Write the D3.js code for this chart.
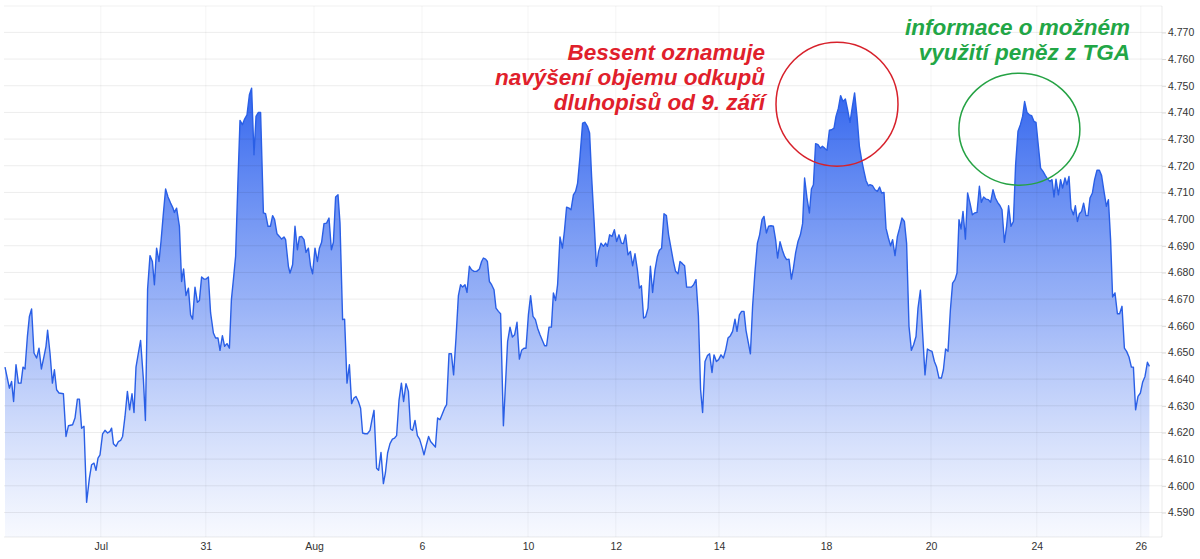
<!DOCTYPE html>
<html>
<head>
<meta charset="utf-8">
<script src="https://cdn.jsdelivr.net/npm/d3@7"></script>
<style>
  body { margin: 0; background: #fff; }
  svg { display: block; font-family: "Liberation Sans", Arial, sans-serif; }
</style>
</head>
<body>
<svg id="chart" width="1200" height="559"></svg>
<script>
// [slot, yield] (slot = trading period index)
const points = [
  [0,4.6445],[2.2,4.6366],[3.3,4.6391],[4.3,4.6316],[5.5,4.6454],[6.7,4.6385],[8,4.6385],[9,4.6445],[10,4.6438],[11.2,4.656],
  [12.2,4.6635],[13.3,4.6663],[14.5,4.6498],[15.8,4.6479],[17,4.6516],[18.2,4.6438],[19.5,4.6485],[20.5,4.6523],[21.3,4.6583],[22.5,4.6498],
  [23.7,4.6385],[24.7,4.6435],[25.8,4.636],[27,4.6348],[29.2,4.6345],[30.5,4.6185],[31.7,4.6225],[33.8,4.6229],[35,4.6254],[36.2,4.6325],
  [37.2,4.6325],[38.3,4.6216],[39.5,4.6223],[40.8,4.5938],[42.2,4.6029],[43.3,4.6079],[44.5,4.6085],[45.5,4.6058],[46.5,4.6104],[47.5,4.6116],
  [48.8,4.6195],[50,4.6208],[51.3,4.6198],[52.5,4.6204],[53.3,4.6216],[54.2,4.6158],[55.5,4.6148],[56.7,4.6166],[57.8,4.617],[58.8,4.6185],
  [60,4.626],[61.2,4.6354],[62.3,4.6285],[63.5,4.6345],[64.5,4.6275],[65.5,4.6445],[66.7,4.6498],[67.8,4.6545],[69.2,4.6398],[70.2,4.6245],
  [71.3,4.6738],[72.5,4.6863],[73.7,4.6841],[74.7,4.6754],[75.8,4.6891],[77,4.6841],[78,4.6916],[79.2,4.7023],[80.3,4.7113],[81.5,4.7083],
  [82.8,4.706],[84,4.7041],[84.7,4.7025],[85.8,4.7041],[87.2,4.6973],[88.3,4.6766],[89.3,4.6813],[90.5,4.6713],[91.7,4.6741],[92.8,4.6641],
  [93.8,4.6625],[95,4.6745],[96.2,4.6688],[97.2,4.6695],[98.3,4.6783],[99.5,4.6775],[100.5,4.6775],[101.7,4.6783],[102.8,4.6648],[104.2,4.6573],
  [105.3,4.6554],[106.5,4.6554],[107.5,4.6508],[108.7,4.6563],[109.8,4.6523],[111,4.6533],[112.2,4.6516],[113.2,4.6698],[114.2,4.6773],[115.3,4.686],
  [116.5,4.7148],[117.5,4.737],[118.7,4.7354],[119.8,4.7375],[121,4.7391],[122.2,4.7466],[123.3,4.7491],[124.5,4.7241],[125.5,4.7385],[126.7,4.74],
  [127.8,4.74],[129.2,4.7023],[130.3,4.702],[131.5,4.6973],[132.7,4.6973],[133.8,4.7013],[134.8,4.6998],[136,4.6945],[137.2,4.6935],[138.3,4.6925],
  [139.5,4.6933],[140.3,4.6923],[141.7,4.6823],
  [142.5,4.6798],[143.8,4.6829],[145,4.6973],[146.2,4.6885],[147.2,4.6933],[148.3,4.6935],[149.5,4.6923],[150.5,4.6875],[151.7,4.6891],[152.8,4.6823],
  [153.8,4.6795],[155,4.6891],[156.2,4.6841],[157.2,4.6891],[158.3,4.6913],[159.5,4.6983],[160.8,4.6985],[162,4.7004],[163.2,4.6885],[164.2,4.6913],
  [165.3,4.7083],[166.5,4.7091],[167.5,4.6985],[168.8,4.6623],[169.8,4.6625],[171,4.6385],[172.2,4.6454],[173.3,4.6308],[174.5,4.6329],[175.5,4.6335],
  [176.7,4.6316],[177.8,4.6291],[178.8,4.6198],[180,4.6195],[181.2,4.6195],[182.5,4.6208],[183.5,4.6248],[184.5,4.6283],[185.8,4.6066],[186.8,4.6058],
  [188,4.6125],[189.2,4.6008],[190.2,4.6048],[191.3,4.6123],[192.5,4.6158],[193.7,4.6175],[194.8,4.6179],[195.8,4.6188],[197,4.632],[198.2,4.6385],
  [199.3,4.6316],[200.5,4.6383],[201.7,4.6354],[202.8,4.6213],[203.8,4.6208],[205,4.6245],[206.2,4.6188],[207.3,4.6175],[208.5,4.6145],[209.5,4.6116],
  [210.7,4.6154],[211.8,4.6185],[212.8,4.6166],[214.2,4.6154],[215.2,4.6145],[216.3,4.6254],[217.5,4.6248],[218.7,4.627],[219.8,4.6291],[220.8,4.6304],
  [222,4.6495],[223.2,4.6495],[224.3,4.6416],[225.5,4.6554],[226.7,4.6713],[227.8,4.6754],[228.8,4.6745],[230,4.6754],[231,4.6725],[232.2,4.6823],
  [233.3,4.681],[234.5,4.6804],[235.8,4.6804],[237.2,4.6813],[238.3,4.6841],[239.2,4.6854],[240.3,4.685],[241.2,4.6841],[242.2,4.6766],[243.3,4.6754],
  [244.5,4.6735],[245.5,4.6666],[246.7,4.6654],[247.8,4.6645],[249.2,4.6225],[250.2,4.6373],[251.3,4.6541],[252.5,4.6595],[253.7,4.6558],[254.8,4.6566],
  [256,4.6613],[257.2,4.6475],[258.3,4.6508],[259.5,4.6516],[260.5,4.6516],[261.7,4.6641],[262.8,4.6713],[264,4.6635],[265.2,4.6623],[266.3,4.6591],
  [267.5,4.6566],[268.7,4.6545],[269.8,4.6525],[270.8,4.6525],[272,4.6595],[273.2,4.6595],[274.2,4.6723],[275.3,4.6695],[276.3,4.6754],[277.5,4.6933],
  [278.7,4.6891],[279.7,4.6954],[280.8,4.7045],[282,4.7041],[283,4.7035],[284.2,4.7091],[285.3,4.7104],[286.3,4.7135],
  [287.5,4.7234],[288.8,4.736],[290,4.7363],[291.2,4.7348],[292.3,4.7323],[293.3,4.716],[294.5,4.6998],[295.7,4.6823],[296.8,4.6879],[298,4.691],
  [299.2,4.6898],[300.3,4.691],[301.2,4.6898],[302.3,4.6941],[303.5,4.6935],[304.7,4.696],[305.8,4.6916],[307,4.6941],[308.2,4.691],[309.2,4.6908],
  [310.3,4.6941],[311.5,4.6866],[312.7,4.6879],[313.8,4.6825],[315,4.687],[316.2,4.681],[317.2,4.6741],[318.2,4.675],[319.3,4.6629],[320.3,4.6633],
  [321.5,4.6666],[322.7,4.6823],[323.8,4.6725],[325,4.681],[326.2,4.686],[327.2,4.6883],[328.3,4.6891],[329.5,4.702],[330.7,4.7013],[331.8,4.6941],
  [333,4.6891],[334.2,4.6841],[335.3,4.6804],[336.5,4.6795],[337.5,4.6841],[338.7,4.6833],[339.8,4.6825],[340.8,4.6745],[342,4.6745],[343.2,4.6745],
  [344.3,4.6754],[345.5,4.6773],[346.7,4.6638],[347.8,4.636],[348.8,4.6275],[350,4.6466],[351.2,4.6488],[352.3,4.6495],[353.5,4.6425],[354.5,4.6491],
  [355.7,4.6466],[356.8,4.6473],[358,4.6491],[359.2,4.6479],[360.3,4.6508],[361.5,4.6554],[362.7,4.6563],[363.8,4.6579],[365,4.6625],[366,4.6579],
  [367.2,4.6641],[368.3,4.6654],[369.5,4.6654],[370.5,4.6583],[371.7,4.6535],[372.7,4.6495],[373.8,4.6673],[375,4.6804],[376.2,4.691],[377.3,4.6941],
  [378.5,4.6998],[379.5,4.701],[380.7,4.6948],[381.8,4.6973],[383,4.6975],[384.2,4.6973],[385.3,4.6923],[386.3,4.6854],[387.5,4.6915],[388.7,4.6883],
  [389.8,4.686],[390.8,4.6848],[392,4.685],[393.2,4.6775],[394.2,4.6816],[395.3,4.6873],[396.5,4.6916],[397.7,4.6941],[398.8,4.6983],[399.8,4.7154],
  [401,4.7079],[402.2,4.7023],[403.2,4.7113],[404.2,4.7129],[405.3,4.7283],[406.5,4.7279],[407.7,4.7266],[408.7,4.7273],[409.8,4.7266],[411,4.7258],
  [412.2,4.7333],[413.3,4.7335],[414.5,4.7341],[415.5,4.7385],[416.7,4.7416],[417.8,4.7463],[419,4.7441],[420.2,4.745],[421.3,4.741],[422.5,4.7363],
  [423.7,4.7423],[424.8,4.7473],[426,4.7385],[427.2,4.7273],[428.3,4.7223],[429.5,4.7179],[430.5,4.7145],[431.7,4.7125],
  [432.5,4.7129],[433.8,4.7125],[435,4.711],[436.2,4.7104],[437.3,4.712],[438.3,4.7098],[439.5,4.71],[440.5,4.6966],[441.7,4.6929],[442.8,4.69],
  [443.8,4.6923],[445,4.6863],[446.2,4.6935],[447.3,4.6966],[448.5,4.7004],[449.7,4.6991],[450.8,4.691],[452,4.6598],[453.2,4.6508],[454.3,4.6529],
  [455.5,4.656],[456.5,4.6666],[457.7,4.6733],[458.8,4.6573],[460,4.6416],[461.2,4.6513],[462.3,4.6508],[463.5,4.6504],[464.7,4.6466],[465.8,4.6445],
  [467,4.6404],[468.2,4.6404],[469.2,4.6435],[470.3,4.6513],[471.5,4.6504],[472.7,4.666],[473.8,4.676],[475,4.6773],[476,4.6798],[477,4.6998],
  [478,4.6963],[479,4.7029],[480.2,4.6925],[481.3,4.7098],[482.5,4.706],[483.7,4.7016],[484.8,4.7023],[486,4.7025],[487.2,4.7123],[488.2,4.7063],
  [489.3,4.7083],[490.5,4.7075],[491.7,4.7073],[492.8,4.7063],[494,4.711],[495.2,4.7079],[496.3,4.7063],[497.5,4.705],[498.5,4.7035],[499.7,4.6913],
  [500.8,4.6973],[501.8,4.705],[503,4.6973],[504.2,4.6991],[505.3,4.7204],[506.5,4.7329],[507.7,4.7354],[508.8,4.7385],[509.8,4.7441],[511,4.74],
  [512.2,4.7391],[513.3,4.7388],[514.5,4.7366],[515.5,4.7363],[516.7,4.7273],[517.8,4.7191],[519,4.7179],[520.2,4.7163],[521.3,4.715],[522.5,4.7141],
  [523.5,4.7148],[524.5,4.7083],[525.5,4.715],[526.7,4.7091],[527.8,4.7148],[528.8,4.7116],[530,4.7154],[531,4.7129],[532,4.716],[533,4.7041],
  [534.2,4.7016],[535.2,4.705],[536.2,4.6991],[537.2,4.702],[538.3,4.7029],[539.3,4.706],[540.5,4.7013],[541.5,4.7013],[542.5,4.7079],[543.7,4.7098],
  [544.8,4.7148],[546,4.7183],[547.2,4.7183],[548.3,4.7163],[549.5,4.7104],[550.7,4.7048],[551.7,4.7073],[552.8,4.6923],[553.8,4.6708],[555,4.6723],
  [556.2,4.6645],[557.3,4.6645],[558.5,4.6673],[559.7,4.6516],[560.8,4.6504],[562,4.6483],[563.2,4.6445],[564.2,4.6445],[565.3,4.6285],[566.5,4.6335],
  [567.7,4.6348],[568.8,4.6388],[570,4.641],[571.2,4.6463],[572.2,4.6448]
];

const xTickSlots = [47.9, 100.4, 154.5, 208.5, 261.5, 305.4, 357, 410.5, 463, 515.9, 567.9];
const xTickLabels = ["Jul", "31", "Aug", "6", "10", "12", "14", "18", "20", "24", "26"];
const yTickValues = [4.59, 4.60, 4.61, 4.62, 4.63, 4.64, 4.65, 4.66, 4.67, 4.68,
                     4.69, 4.70, 4.71, 4.72, 4.73, 4.74, 4.75, 4.76, 4.77];

const redNote = ["Bessent oznamuje", "navýšení objemu odkupů", "dluhopisů od 9. září"];
const greenNote = ["informace o možném", "využití peněz z TGA"];

const svg = d3.select("#chart");
const plot = { left: 4, right: 1162, top: 6, bottom: 537 };

const x = d3.scaleLinear().domain([0, 578.5]).range([5, plot.right]);
const y = d3.scaleLinear().domain([4.5808, 4.7799]).range([plot.bottom, plot.top]);

// gradient under the line
const defs = svg.append("defs");
const grad = defs.append("linearGradient")
    .attr("id", "fillGrad")
    .attr("gradientUnits", "userSpaceOnUse")
    .attr("x1", 0).attr("x2", 0)
    .attr("y1", y(d3.max(points, d => d[1])))
    .attr("y2", plot.bottom);
grad.append("stop").attr("offset", 0).attr("stop-color", "#3366ee").attr("stop-opacity", 1);
grad.append("stop").attr("offset", 0.5).attr("stop-color", "#5b84f2").attr("stop-opacity", 0.6);
grad.append("stop").attr("offset", 1).attr("stop-color", "#7f9ff5").attr("stop-opacity", 0.06);

const area = d3.area()
    .x(d => x(d[0]))
    .y0(plot.bottom)
    .y1(d => y(d[1]));

const line = d3.line()
    .x(d => x(d[0]))
    .y(d => y(d[1]));

svg.append("path")
    .datum(points)
    .attr("d", area)
    .attr("fill", "url(#fillGrad)");

// grid lines sit on top of the fill
const grid = svg.append("g");
grid.selectAll(".hgrid")
    .data(yTickValues)
    .join("line")
    .attr("x1", plot.left).attr("x2", plot.right)
    .attr("y1", d => y(d)).attr("y2", d => y(d))
    .attr("stroke", "rgba(0,0,0,0.075)")
    .attr("stroke-width", 1);
grid.selectAll(".vgrid")
    .data(xTickSlots)
    .join("line")
    .attr("x1", d => x(d)).attr("x2", d => x(d))
    .attr("y1", plot.top).attr("y2", plot.bottom)
    .attr("stroke", "rgba(0,0,0,0.045)")
    .attr("stroke-width", 1);
// frame: top, bottom, right
grid.append("line").attr("x1", plot.left).attr("x2", plot.right)
    .attr("y1", plot.top).attr("y2", plot.top).attr("stroke", "rgba(0,0,0,0.06)");
grid.append("line").attr("x1", plot.left).attr("x2", plot.right)
    .attr("y1", plot.bottom).attr("y2", plot.bottom).attr("stroke", "rgba(0,0,0,0.08)");
grid.append("line").attr("x1", plot.right).attr("x2", plot.right)
    .attr("y1", plot.top).attr("y2", plot.bottom).attr("stroke", "rgba(0,0,0,0.08)");

svg.append("path")
    .datum(points)
    .attr("d", line)
    .attr("fill", "none")
    .attr("stroke", "#2a5fe6")
    .attr("stroke-width", 1.4)
    .attr("stroke-linejoin", "round");

// right y axis
const yAxis = svg.append("g")
    .attr("transform", `translate(${plot.right},0)`)
    .call(d3.axisRight(y).tickValues(yTickValues).tickFormat(d3.format(".3f")).tickSize(4).tickPadding(2));
yAxis.select(".domain").remove();
yAxis.selectAll(".tick line").attr("stroke", "#d8d8d8");
yAxis.selectAll(".tick text")
    .attr("fill", "#333")
    .attr("font-size", 10.5)
    .attr("font-family", "\"Liberation Sans\", Arial, sans-serif");

// bottom x axis labels
const xAxis = svg.append("g")
    .attr("transform", `translate(0,${plot.bottom})`)
    .call(d3.axisBottom(x).tickValues(xTickSlots).tickFormat((d, i) => xTickLabels[i]).tickSize(0).tickPadding(6));
xAxis.select(".domain").remove();
xAxis.selectAll(".tick text")
    .attr("fill", "#333")
    .attr("font-size", 10.5)
    .attr("font-family", "\"Liberation Sans\", Arial, sans-serif");

// annotations
svg.append("ellipse")
    .attr("cx", x(416)).attr("cy", y(4.7431))
    .attr("rx", 61).attr("ry", 62)
    .attr("fill", "none").attr("stroke", "#d7212b").attr("stroke-width", 1.5);
svg.append("ellipse")
    .attr("cx", x(507.2)).attr("cy", y(4.7337))
    .attr("rx", 60.5).attr("ry", 56)
    .attr("fill", "none").attr("stroke", "#25a244").attr("stroke-width", 1.5);

const noteStyle = sel => sel
    .attr("text-anchor", "end")
    .attr("font-size", 22.5)
    .attr("font-weight", "bold")
    .attr("font-style", "italic");

svg.append("g").selectAll("text")
    .data(redNote)
    .join("text")
    .call(noteStyle)
    .attr("x", 765)
    .attr("y", (d, i) => 59.5 + i * 25)
    .attr("fill", "#e0202b")
    .text(d => d);

svg.append("g").selectAll("text")
    .data(greenNote)
    .join("text")
    .call(noteStyle)
    .attr("x", 1130)
    .attr("y", (d, i) => 35 + i * 25)
    .attr("fill", "#22a646")
    .text(d => d);
</script>
</body>
</html>
